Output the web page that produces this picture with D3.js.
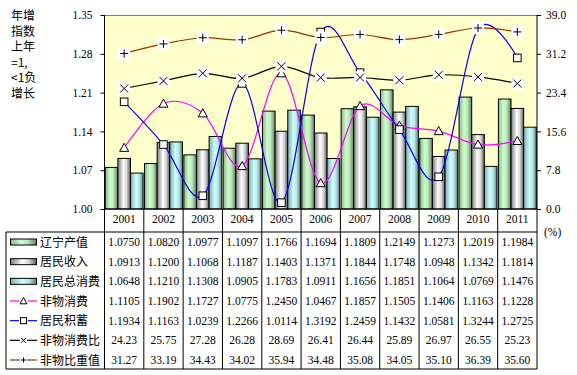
<!DOCTYPE html>
<html>
<head>
<meta charset="utf-8">
<script src="https://cdn.jsdelivr.net/npm/d3@7"></script>
<style>
  body { margin: 0; background: #fff; }
  svg { display: block; }
  .num { font-family: "Liberation Serif", "Times New Roman", serif; font-size: 11.5px; fill: #000; }
  .cjk { font-family: "Noto Sans CJK SC", sans-serif; font-size: 12px; fill: #000; }
</style>
</head>
<body>
<svg id="chart"></svg>
<script>
// data
let years = ['2001', '2002', '2003', '2004', '2005', '2006', '2007', '2008', '2009', '2010', '2011'];
let gdp = [1.0750, 1.0820, 1.0977, 1.1097, 1.1766, 1.1694, 1.1809, 1.2149, 1.1273, 1.2019, 1.1984];
let income = [1.0913, 1.1200, 1.1068, 1.1187, 1.1403, 1.1371, 1.1844, 1.1748, 1.0948, 1.1342, 1.1814];
let consume = [1.0648, 1.1210, 1.1308, 1.0905, 1.1783, 1.0911, 1.1656, 1.1851, 1.1064, 1.0769, 1.1476];
let nonMat = [1.1105, 1.1902, 1.1727, 1.0775, 1.2450, 1.0467, 1.1857, 1.1505, 1.1406, 1.1163, 1.1228];
let savings = [1.1934, 1.1163, 1.0239, 1.2266, 1.0114, 1.3192, 1.2459, 1.1432, 1.0581, 1.3244, 1.2725];
let nonMatRatio = ['24.23', '25.75', '27.28', '26.28', '28.69', '26.41', '26.44', '25.89', '26.97', '26.55', '25.23'];
let nonMatShare = ['31.27', '33.19', '34.43', '34.02', '35.94', '34.48', '35.08', '34.05', '35.10', '36.39', '35.60'];
let leftTicks = [1.00, 1.07, 1.14, 1.21, 1.28, 1.35];
let rightTicks = [0, 7.8, 15.6, 23.4, 31.2, 39.0];
let yLabel = ['年增', '指数', '上年', '=1,', '<1负', '增长'];

let width = 577;
let height = 375;
let plotLeft = 104.5, plotRight = 537, plotTop = 15, plotBottom = 209;
let tableTop = 232, tableBottom = 369, tableLeft = 6;

let svg = d3.select('#chart').attr('width', width).attr('height', height);

let defs = svg.append('defs');
let makeGrad = (id, stops) => {
    let g = defs.append('linearGradient').attr('id', id)
        .attr('x1', 0).attr('x2', 1).attr('y1', 0).attr('y2', 0);
    stops.forEach(s => g.append('stop').attr('offset', s[0]).attr('stop-color', s[1]));
};
makeGrad('gGreen', [[0, '#8db58d'], [0.4, '#ccffcc'], [0.65, '#bde8bd'], [1, '#5e7f5e']]);
makeGrad('gGray', [[0, '#7a7a7a'], [0.45, '#ffffff'], [0.7, '#d9d9d9'], [1, '#5a5a5a']]);
makeGrad('gCyan', [[0, '#84aaaa'], [0.45, '#ccffff'], [0.7, '#b6e6e6'], [1, '#5f8585']]);

// scales
let xScale = d3.scaleBand().domain(years).range([plotLeft, plotRight]);
let yLeft = d3.scaleLinear().domain([1.00, 1.35]).range([plotBottom, plotTop]);
let yRight = d3.scaleLinear().domain([0, 39]).range([plotBottom, plotTop]);

let bars = [
    { name: '辽宁产值', values: gdp, fill: 'url(#gGreen)' },
    { name: '居民收入', values: income, fill: 'url(#gGray)' },
    { name: '居民总消费', values: consume, fill: 'url(#gCyan)' }
];
let inner = d3.scaleBand().domain(d3.range(3)).range([0, xScale.bandwidth()]).paddingOuter(0.055);

// plot background
svg.append('rect').attr('x', plotLeft).attr('y', plotTop).attr('width', plotRight - plotLeft).attr('height', plotBottom - plotTop)
    .attr('fill', '#ffffcc');
svg.append('line').attr('x1', plotLeft).attr('x2', plotRight).attr('y1', plotTop + 0.5).attr('y2', plotTop + 0.5)
    .attr('stroke', '#808080');

// bars
bars.forEach((b, i) => {
    svg.append('g').selectAll('rect')
        .data(b.values)
        .enter()
        .append('rect')
        .attr('x', (d, j) => xScale(years[j]) + inner(i))
        .attr('y', d => yLeft(d))
        .attr('width', inner.bandwidth())
        .attr('height', d => yLeft(1.0) - yLeft(d))
        .attr('fill', b.fill)
        .attr('stroke', '#000')
        .attr('stroke-width', 1);
});

let cx = (d, j) => xScale(years[j]) + xScale.bandwidth() / 2;

let lines = [
    { name: '非物消费', values: nonMat, scale: yLeft, color: '#ff00ff', marker: 'tri' },
    { name: '居民积蓄', values: savings, scale: yLeft, color: '#0000ff', marker: 'sq' },
    { name: '非物消费比', values: nonMatRatio.map(Number), scale: yRight, color: '#000000', marker: 'x' },
    { name: '非物比重值', values: nonMatShare.map(Number), scale: yRight, color: '#993300', marker: 'plus' }
];

let drawMarker = (g, type, x, y, s) => {
    if (type === 'tri') {
        g.append('path').attr('d', `M${x},${y - s}L${x + s},${y + s * 0.8}L${x - s},${y + s * 0.8}Z`)
            .attr('fill', '#fff').attr('stroke', '#000').attr('stroke-width', 1);
    } else if (type === 'sq') {
        g.append('rect').attr('x', x - s).attr('y', y - s).attr('width', 2 * s).attr('height', 2 * s)
            .attr('fill', '#fff').attr('stroke', '#000').attr('stroke-width', 1);
    } else if (type === 'x') {
        g.append('path').attr('d', `M${x - s},${y - s}L${x + s},${y + s}M${x - s},${y + s}L${x + s},${y - s}`)
            .attr('stroke', '#000').attr('stroke-width', 1);
    } else {
        g.append('path').attr('d', `M${x - s},${y}L${x + s},${y}M${x},${y - s}L${x},${y + s}`)
            .attr('stroke', '#000').attr('stroke-width', 1);
    }
};

lines.forEach(l => {
    let line = d3.line()
        .x((d, j) => cx(d, j))
        .y(d => l.scale(d))
        .curve(d3.curveCardinal.tension(0));
    svg.append('path').datum(l.values)
        .attr('d', line)
        .attr('fill', 'none')
        .attr('stroke', l.color)
        .attr('stroke-width', 1.2);
});

lines.forEach(l => {
    let g = svg.append('g');
    l.values.forEach((d, j) => {
        let x = cx(d, j), y = l.scale(d);
        if (l.marker === 'x' || l.marker === 'plus') {
            g.append('rect').attr('x', x - 6).attr('y', y - 6).attr('width', 12).attr('height', 12).attr('fill', '#fff');
        }
        drawMarker(g, l.marker, x, y, l.marker === 'tri' ? 4.5 : (l.marker === 'sq' ? 3.8 : 4));
    });
});

// axes
let leftAxis = d3.axisLeft(yLeft).tickValues(leftTicks).tickFormat(d3.format('.2f')).tickSize(4);
let gL = svg.append('g').attr('transform', `translate(${plotLeft},0)`).call(leftAxis);
gL.select('.domain').remove();
gL.selectAll('text').attr('class', 'num').attr('x', -12).attr('font-size', null).attr('font-family', null);
let rightAxis = d3.axisRight(yRight).tickValues(rightTicks).tickFormat(d3.format('.1f')).tickSize(4);
let gR = svg.append('g').attr('transform', `translate(${plotRight},0)`).call(rightAxis);
gR.select('.domain').remove();
gR.selectAll('text').attr('class', 'num').attr('x', 9).attr('font-size', null).attr('font-family', null);
svg.selectAll('.tick text').style('font-size', '11.5px').style('font-family', '"Liberation Serif", serif');

svg.append('line').attr('x1', plotLeft).attr('x2', plotLeft).attr('y1', plotTop).attr('y2', tableBottom).attr('stroke', '#000');
svg.append('line').attr('x1', plotRight).attr('x2', plotRight).attr('y1', plotTop).attr('y2', tableBottom).attr('stroke', '#000');
svg.append('line').attr('x1', plotLeft).attr('x2', plotRight).attr('y1', plotBottom).attr('y2', plotBottom).attr('stroke', '#000');

// y label
svg.append('g').selectAll('text').data(yLabel).enter().append('text')
    .attr('class', 'cjk').attr('x', 11).attr('y', (d, i) => 20 + i * 15.5).text(d => d);

// data table
let tbl = svg.append('g');
tbl.append('line').attr('x1', tableLeft).attr('x2', plotRight).attr('y1', tableTop).attr('y2', tableTop).attr('stroke', '#000');
tbl.append('line').attr('x1', tableLeft).attr('x2', plotRight).attr('y1', tableBottom).attr('y2', tableBottom).attr('stroke', '#000');
tbl.append('line').attr('x1', tableLeft).attr('x2', tableLeft).attr('y1', tableTop).attr('y2', tableBottom).attr('stroke', '#000');
years.forEach((y, j) => {
    if (j > 0) {
        tbl.append('line').attr('x1', xScale(y)).attr('x2', xScale(y)).attr('y1', plotBottom).attr('y2', tableBottom).attr('stroke', '#000');
    }
    tbl.append('text').attr('class', 'num').attr('text-anchor', 'middle')
        .attr('x', xScale(y) + xScale.bandwidth() / 2).attr('y', 223).text(y);
});

let rows = [
    { name: '辽宁产值', cells: gdp.map(d => d.toFixed(4)), type: 'bar', fill: 'url(#gGreen)' },
    { name: '居民收入', cells: income.map(d => d.toFixed(4)), type: 'bar', fill: 'url(#gGray)' },
    { name: '居民总消费', cells: consume.map(d => d.toFixed(4)), type: 'bar', fill: 'url(#gCyan)' },
    { name: '非物消费', cells: nonMat.map(d => d.toFixed(4)), type: 'tri', color: '#ff00ff' },
    { name: '居民积蓄', cells: savings.map(d => d.toFixed(4)), type: 'sq', color: '#0000ff' },
    { name: '非物消费比', cells: nonMatRatio, type: 'x', color: '#000000' },
    { name: '非物比重值', cells: nonMatShare, type: 'plus', color: '#993300' }
];
let rowY = d3.scalePoint().domain(d3.range(rows.length)).range([242, 360]);

rows.forEach((r, i) => {
    let y = rowY(i);
    if (r.type === 'bar') {
        tbl.append('rect').attr('x', 10.5).attr('y', y - 3).attr('width', 26).attr('height', 6)
            .attr('fill', r.fill).attr('stroke', '#000');
    } else {
        tbl.append('line').attr('x1', 10).attr('x2', 37).attr('y1', y).attr('y2', y)
            .attr('stroke', r.color).attr('stroke-width', 1.2);
        if (r.type === 'tri' || r.type === 'sq') {
            tbl.append('rect').attr('x', 19).attr('y', y - 4).attr('width', 9).attr('height', 8).attr('fill', '#fff');
        } else {
            tbl.append('rect').attr('x', 20).attr('y', y - 4).attr('width', 7).attr('height', 8).attr('fill', '#fff');
        }
        drawMarker(tbl, r.type, 23.5, y, r.type === 'tri' ? 3.5 : (r.type === 'sq' ? 3 : 2.5));
    }
    tbl.append('text').attr('class', 'cjk').attr('x', 40).attr('y', y + 4.5).text(r.name);
    r.cells.forEach((c, j) => {
        tbl.append('text').attr('class', 'num').attr('text-anchor', 'middle')
            .attr('x', xScale(years[j]) + xScale.bandwidth() / 2).attr('y', y + 4).text(c);
    });
});

svg.append('text').attr('class', 'num').attr('x', 544).attr('y', 236).text('(%)');
</script>
</body>
</html>
